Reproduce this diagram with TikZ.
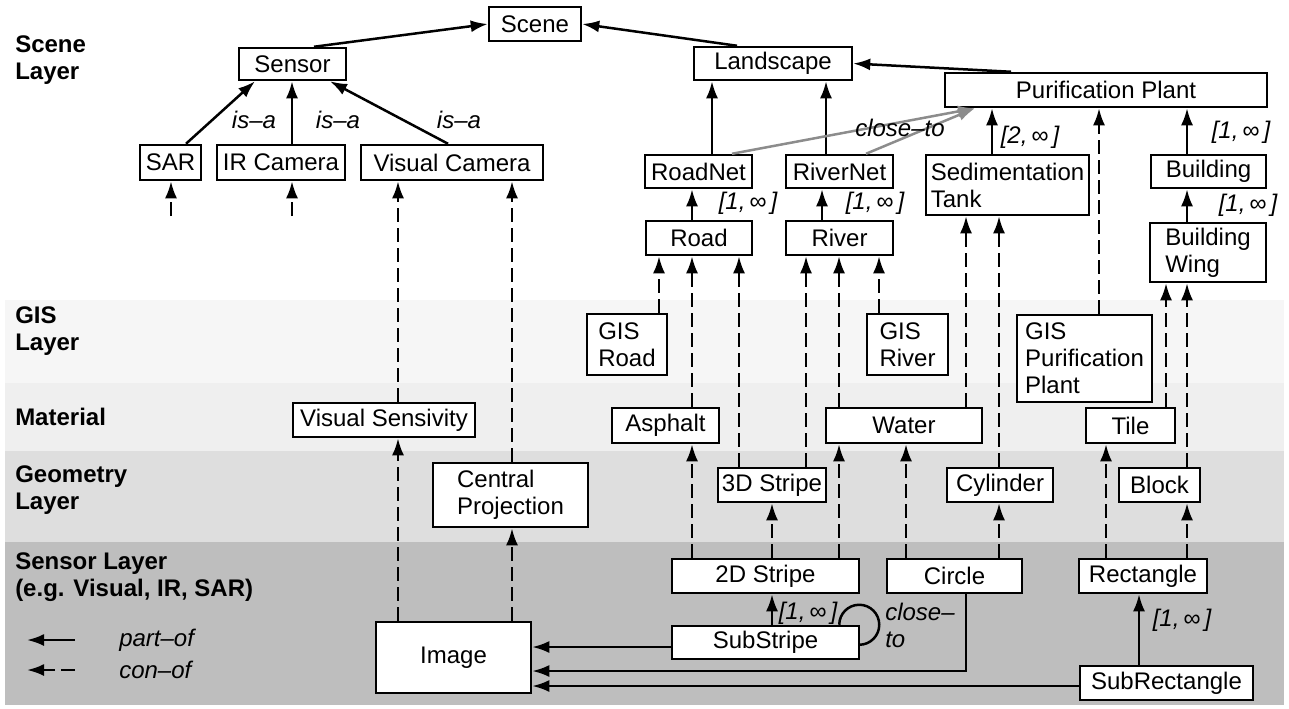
\documentclass[tikz,border=0pt]{standalone}
\usepackage{fontspec}
\setmainfont{Liberation Sans}
\usetikzlibrary{arrows.meta, calc, positioning}
\definecolor{gisbg}{gray}{0.965}
\definecolor{matbg}{gray}{0.937}
\definecolor{geobg}{gray}{0.871}
\definecolor{senbg}{gray}{0.745}

\begin{document}
\begin{tikzpicture}[x=0.5pt, y=-0.5pt, line width=1.25pt,
  font=\fontsize{12}{13.5}\selectfont, >={Latex[length=8.5pt,width=6pt]},
  box/.style 2 args={draw, fill=white, inner sep=0pt, align=left, minimum width=#1*0.5pt, minimum height=#2*0.5pt},
  partof/.style={->},
  conof/.style={->, dash pattern=on 7pt off 3pt},
  closeto/.style={->, draw=black!45},
  card/.style={font=\fontsize{12}{13.5}\selectfont\itshape},
  layer/.style={anchor=west, align=left, inner sep=0pt, font=\fontsize{12}{13.5}\selectfont\bfseries}]

\useasboundingbox (0,0) rectangle (1289,708);

% layer bands
\fill[gisbg] (5,300) rectangle (1284,383);
\fill[matbg] (5,383) rectangle (1284,451);
\fill[geobg] (5,451) rectangle (1284,542);
\fill[senbg] (5,542) rectangle (1284,705);

\node[layer] (lscene) at (14,60) {Scene\\Layer};
\node[layer] (lgis) at (14,331) {GIS\\Layer};
\node[layer] (lmat) at (14,417) {Material};
\node[layer] (lgeo) at (14,490) {Geometry\\Layer};
\node[layer] (lsen) at (14,577) {Sensor Layer\\(e.g. Visual, IR, SAR)};

% scene layer
\node[box={92}{34}] (scene) at (535,24) {Scene};
\node[box={107}{32}] (sensor) at (292.5,64) {Sensor};
\node[box={158}{33}] (landscape) at (773,63.5) {Landscape};
\node[box={322}{34}] (plant) at (1106,90) {Purification Plant};
\node[box={61}{35}] (sar) at (170.5,162.5) {SAR};
\node[box={128}{35}] (ircam) at (281,162.5) {IR Camera};
\node[box={182}{35}] (viscam) at (452,162.5) {Visual Camera};
\node[box={107}{33}] (roadnet) at (698.5,171.5) {RoadNet};
\node[box={107}{33}] (rivernet) at (839.5,171.5) {RiverNet};
\node[box={163}{60}] (sedtank) at (1007.5,185) {Sedimentation\\Tank};
\node[box={115}{33}] (building) at (1208.5,171.5) {Building};
\node[box={106}{34}] (road) at (699,238) {Road};
\node[box={107}{34}] (river) at (839.5,238) {River};
\node[box={116}{59}] (bwing) at (1208,252.5) {Building\\Wing};

% gis layer
\node[box={80}{61}] (gisroad) at (627,344.5) {GIS\\Road};
\node[box={81}{61}] (gisriver) at (907.5,344.5) {GIS\\River};
\node[box={135}{87}] (gisplant) at (1084.5,358.5) {GIS\\Purification\\Plant};

% material
\node[box={182}{34}] (vissens) at (384,420) {Visual Sensivity};
\node[box={107}{35}] (asphalt) at (665.5,425.5) {Asphalt};
\node[box={156}{35}] (water) at (904,425.5) {Water};
\node[box={89}{35}] (tile) at (1130.5,425.5) {Tile};

% geometry layer
\node[box={155}{64}] (cproj) at (510.5,495) {Central\\Projection};
\node[box={108}{34}] (stripe3) at (772,485) {3D Stripe};
\node[box={106}{34}] (cylinder) at (1000,485) {Cylinder};
\node[box={81}{34}] (block) at (1159.5,485) {Block};

% sensor layer
\node[box={187}{34}] (stripe2) at (765.5,576) {2D Stripe};
\node[box={135}{34}] (circle) at (954.5,576) {Circle};
\node[box={128}{34}] (rect) at (1143,576) {Rectangle};
\node[box={187}{33}] (substripe) at (765.5,642.5) {SubStripe};
\node[box={155}{71}] (image) at (453.5,657.5) {Image};
\node[box={173}{34}] (subrect) at (1166.5,683) {SubRectangle};

% part-of
\draw[partof] ([xshift=10.75pt]sensor.north) -- (scene.west);
\draw[partof] ([xshift=-18pt]landscape.north) -- (scene.east);
\draw[partof] ([xshift=-47.5pt]plant.north) -- (landscape.east);
\draw[partof] ([xshift=7.75pt]sar.north) -- ([xshift=-18.75pt]sensor.south);
\draw[partof] ([xshift=5.5pt]ircam.north) -- ([xshift=-0.25pt]sensor.south);
\draw[partof] ([xshift=-2pt]viscam.north) -- ([xshift=18.75pt]sensor.south);
\draw[partof] ([xshift=6.75pt]roadnet.north) -- ([xshift=-30.5pt]landscape.south);
\draw[partof] ([xshift=-6.75pt]rivernet.north) -- ([xshift=26.5pt]landscape.south);
\draw[partof] ([xshift=-7.75pt]sedtank.north) -- ([xshift=-57pt]plant.south);
\draw[partof] ([xshift=-10.75pt]building.north) -- ([xshift=40.5pt]plant.south);
\draw[partof] ([xshift=-3.5pt]road.north) -- ([xshift=-3.25pt]roadnet.south);
\draw[partof] ([xshift=-8.75pt]river.north) -- ([xshift=-8.75pt]rivernet.south);
\draw[partof] ([xshift=-10.5pt]bwing.north) -- ([xshift=-10.75pt]building.south);
\draw[partof] ([xshift=3.25pt]substripe.north) -- ([xshift=3.25pt]stripe2.south);
\draw[partof] ([xshift=-13.75pt]subrect.north) -- ([xshift=-2pt]rect.south);
\draw[partof] ([yshift=-2.25pt]substripe.west) -- ([yshift=5.25pt]image.east);
\draw[partof] ([xshift=5.75pt]circle.south) |- ([yshift=-6.75pt]image.east);
\draw[partof] ([yshift=-1.5pt]subrect.west) -- ([yshift=-14.25pt]image.east);
\draw ([xshift=-10.5pt]substripe.north east) arc[start angle=180, end angle=-90, radius=10pt];

% close-to
\draw[closeto] ([xshift=16.75pt]roadnet.north) -- ([xshift=-65.5pt]plant.south);
\draw[closeto] ([xshift=13.25pt]rivernet.north) -- ([xshift=-65.5pt]plant.south);

% con-of
\coordinate (sarfeed) at (171,216);
\coordinate (irfeed) at (292,216);
\draw[conof] (sarfeed) -- ([xshift=0.25pt]sar.south);
\draw[conof] (irfeed) -- ([xshift=5.5pt]ircam.south);
\draw[conof] ([xshift=-27.75pt]image.north) -- ([xshift=7pt]vissens.south);
\draw[conof] ([xshift=7pt]vissens.north) -- ([xshift=-27pt]viscam.south);
\draw[conof] ([xshift=29.25pt]image.north) -- ([xshift=0.75pt]cproj.south);
\draw[conof] ([xshift=0.75pt]cproj.north) -- ([xshift=30pt]viscam.south);
\draw[conof] ([xshift=16pt]gisroad.north) -- ([xshift=-20pt]road.south);
\draw[conof] ([xshift=13.25pt]asphalt.north) -- ([xshift=-3.5pt]road.south);
\draw[conof] ([xshift=-16.5pt]stripe3.north) -- ([xshift=20pt]road.south);
\draw[conof] ([xshift=17pt]stripe3.north) -- ([xshift=-16.75pt]river.south);
\draw[conof] ([xshift=-32.5pt]water.north) -- ([xshift=-0.25pt]river.south);
\draw[conof] ([xshift=-14.25pt]gisriver.north) -- ([xshift=19.75pt]river.south);
\draw[conof] ([xshift=31pt]water.north) -- ([xshift=-20.75pt]sedtank.south);
\draw[conof] ([xshift=-0.5pt]cylinder.north) -- ([xshift=-4.25pt]sedtank.south);
\draw[conof] ([xshift=7.25pt]gisplant.north) -- ([xshift=-3.5pt]plant.south);
\draw[conof] ([xshift=17.75pt]tile.north) -- ([xshift=-21pt]bwing.south);
\draw[conof] ([xshift=13.75pt]block.north) -- ([xshift=-10.5pt]bwing.south);
\draw[conof] ([xshift=-36.75pt]stripe2.north) -- ([xshift=13.25pt]asphalt.south);
\draw[conof] ([xshift=36.75pt]stripe2.north) -- ([xshift=-32.5pt]water.south);
\draw[conof] ([xshift=-24.25pt]circle.north) -- ([xshift=1pt]water.south);
\draw[conof] ([xshift=3.25pt]stripe2.north) -- (stripe3.south);
\draw[conof] ([xshift=22.25pt]circle.north) -- ([xshift=-0.5pt]cylinder.south);
\draw[conof] ([xshift=-18.5pt]rect.north) -- ([xshift=-12.25pt]tile.south);
\draw[conof] ([xshift=22pt]rect.north) -- ([xshift=13.75pt]block.south);

% labels
\node[card] (isa1) at (254,120) {is–a};
\node[card] (isa2) at (338,120) {is–a};
\node[card] (isa3) at (459,120) {is–a};
\node[card] (close1) at (900,128) {close–to};
\node[card] (card1) at (1030,137) {[2,\,∞\,]};
\node[card] (card2) at (1241,132) {[1,\,∞\,]};
\node[card] (card3) at (748,203) {[1,\,∞\,]};
\node[card] (card4) at (875,203) {[1,\,∞\,]};
\node[card] (card5) at (1248,205) {[1,\,∞\,]};
\node[card] (card6) at (808,613) {[1,\,∞\,]};
\node[card] (card7) at (1182,620) {[1,\,∞\,]};
\node[card, anchor=west, align=left, inner sep=0pt] (close2) at (884,625) {close–\\to};

% legend
\coordinate (lgpa) at (75,640);
\coordinate (lgpb) at (27,640);
\coordinate (lgca) at (75,670);
\coordinate (lgcb) at (27,670);
\draw[partof] (lgpa) -- (lgpb);
\draw[conof] (lgca) -- (lgcb);
\node[card, anchor=west, inner sep=0pt] (lgp) at (118,640) {part–of};
\node[card, anchor=west, inner sep=0pt] (lgc) at (118,670) {con–of};

\end{tikzpicture}
\end{document}
